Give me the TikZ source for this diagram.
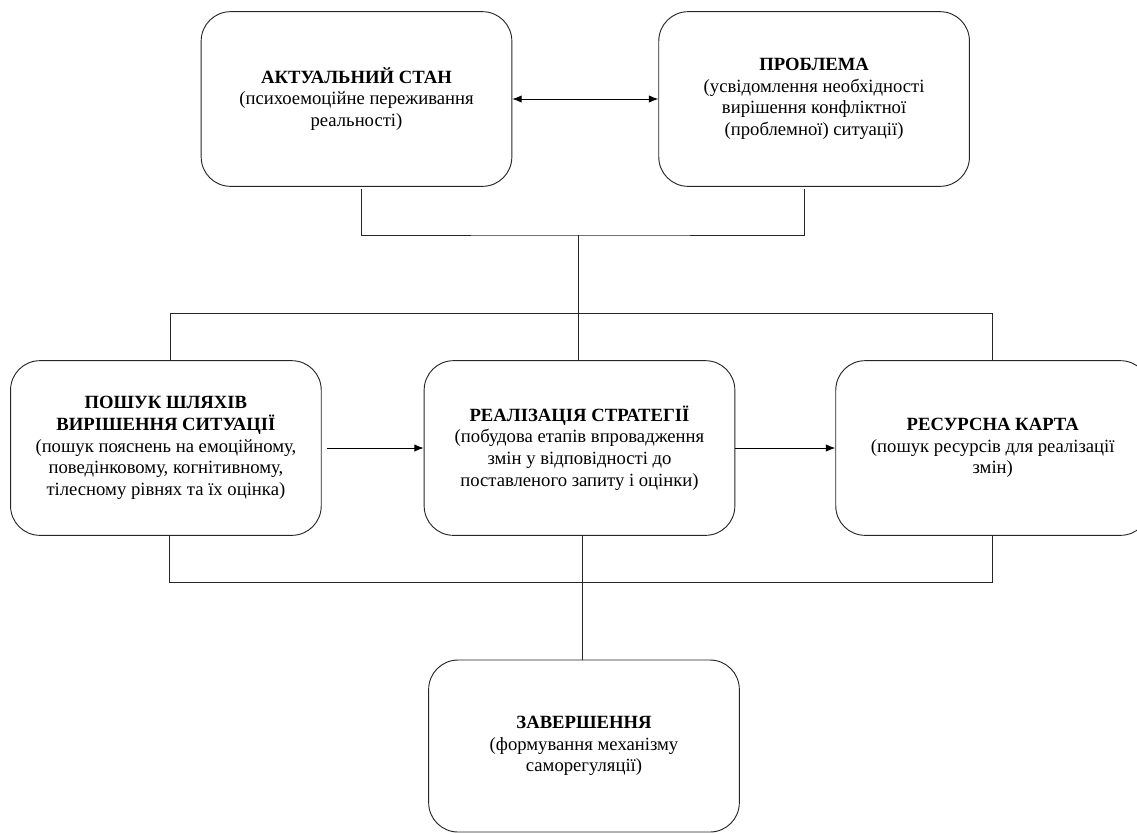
\documentclass[tikz,border=0pt]{standalone}
\usepackage{fontspec}
\setmainfont{Liberation Serif}
\newfontfamily\stagefont{Liberation Serif}
\usetikzlibrary{arrows.meta, positioning}
\tikzset{stage/.style={draw=black!85, rounded corners=22pt, minimum width=233pt,
    minimum height=131pt, align=center, line width=0.7pt,
    font=\stagefont\fontsize{14pt}{16.2pt}\selectfont}}
\tikzset{link/.style={draw=black!85, line width=0.7pt}}
\tikzset{arrow/.style={arrows=->, black, line width=0.7pt}}

\begin{document}
\begin{tikzpicture}[x=0.75pt, y=-0.75pt, >={Latex[length=7pt, width=5.5pt]}]
    \useasboundingbox (0,0) rectangle (1137,833);

    % Upper row
    \node [stage] (actual) at (356.5,99) {\textbf{АКТУАЛЬНИЙ СТАН}\\(психоемоційне переживання\\реальності)};
    \node [stage, right=109.5pt of actual] (problem) {\textbf{ПРОБЛЕМА}\\(усвідомлення необхідності\\вирішення конфліктної\\(проблемної) ситуації)};

    % Middle row
    \node [stage] (strategy) at (579.5,448) {\textbf{РЕАЛІЗАЦІЯ СТРАТЕГІЇ}\\(побудова етапів впровадження\\змін у відповідності до\\поставленого запиту і оцінки)};
    \node [stage, left=76.5pt of strategy] (search) {\textbf{ПОШУК ШЛЯХІВ}\\\textbf{ВИРІШЕННЯ СИТУАЦІЇ}\\(пошук пояснень на емоційному,\\поведінковому, когнітивному,\\тілесному рівнях та їх оцінка)};
    \node [stage, right=75pt of strategy, minimum width=235.5pt] (resource) {\textbf{РЕСУРСНА КАРТА}\\(пошук ресурсів для реалізації\\змін)};

    % Final stage
    \node [stage, minimum height=129pt] (finish) at (584,746) {\textbf{ЗАВЕРШЕННЯ}\\(формування механізму\\саморегуляції)};

    % Join points
    \coordinate (topjoin) at (578,235);
    \coordinate (midjoin) at (578,313);
    \coordinate (lowjoin) at (582,582);

    % Connect the nodes
    \draw [arrow, <->] (actual) -- (problem);
    \draw [link] ([xshift=4pt, yshift=-2pt]actual.south) |- (topjoin) -| ([xshift=-7.5pt, yshift=-2pt]problem.south);
    \draw [link] (topjoin) -- (topjoin |- strategy.north);
    \draw [link] ([xshift=3.5pt]search.north) |- (midjoin) -| (resource.north);
    \draw [arrow] ([xshift=4pt]search.east) -- (strategy);
    \draw [arrow] (strategy) -- (resource);
    \draw [link] ([xshift=3pt]search.south) |- (lowjoin) -| (resource.south);
    \draw [link] (lowjoin |- strategy.south) -- (lowjoin |- finish.north);
\end{tikzpicture}
\end{document}
